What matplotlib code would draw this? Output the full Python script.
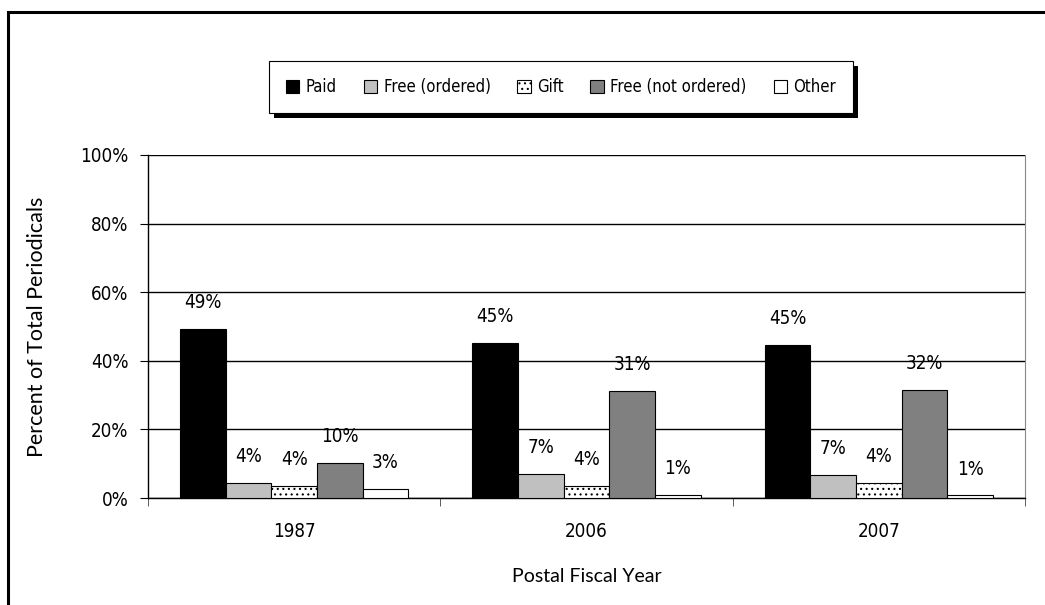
import matplotlib.pyplot as plt
import numpy as np
from matplotlib.patches import Rectangle
from matplotlib import font_manager

years = ["1987", "2006", "2007"]
series = ["Paid", "Free (ordered)", "Gift", "Free (not ordered)", "Other"]
paid = [49.4, 45.2, 44.6]
free_ordered = [4.4, 7.0, 6.8]
gift = [3.6, 3.6, 4.4]
free_not_ordered = [10.2, 31.3, 31.5]
other = [2.7, 1.0, 0.8]

values = [paid, free_ordered, gift, free_not_ordered, other]
colors = ["#000000", "#c0c0c0", "#ffffff", "#808080", "#ffffff"]
hatches = [None, None, "...", None, None]

cond = font_manager.FontProperties(family="DejaVu Sans", stretch="condensed", size=13.5)
cond_leg = font_manager.FontProperties(family="DejaVu Sans", stretch="condensed", size=12)
plt.rcParams["hatch.linewidth"] = 0.8

fig = plt.figure(figsize=(10.45, 6.05), dpi=100)
ax = fig.add_axes([148 / 1045, 1 - 498 / 605, 877 / 1045, 343 / 605])

x = np.arange(len(years))
w = 0.156
for i, (vals, c, h, name) in enumerate(zip(values, colors, hatches, series)):
    pos = x + (i - 2) * w
    ax.bar(pos, vals, width=w, color=c, edgecolor="black", linewidth=0.8,
           hatch=h, label=name, zorder=3)
    for px, v in zip(pos, vals):
        ax.annotate(f"{v:.0f}%", (px, v), xytext=(0, 12), textcoords="offset points",
                    ha="center", va="bottom", fontproperties=cond)

ax.set_xlim(-0.5, 2.5)
ax.set_ylim(0, 100)
ax.set_yticks(np.arange(0, 101, 20))
ax.set_yticklabels([f"{t}%" for t in range(0, 101, 20)], fontproperties=cond)
ax.yaxis.grid(True, color="black", linewidth=1)
ax.set_axisbelow(True)

ax.set_xticks(x)
ax.set_xticklabels(years, fontproperties=cond)
ax.set_xticks([-0.5, 0.5, 1.5, 2.5], minor=True)
ax.tick_params(axis="x", which="major", length=0, pad=17)
ax.tick_params(axis="x", which="minor", length=6, direction="out", color="#444444")
ax.tick_params(axis="y", length=6, direction="out", pad=8)

ax.spines["top"].set_visible(False)
ax.spines["right"].set_color("#888888")
ax.spines["left"].set_linewidth(1)
ax.spines["bottom"].set_linewidth(1)

ax.set_ylabel("Percent of Total Periodicals", family="Lato", fontsize=15.5, labelpad=24)
ax.set_xlabel("Postal Fiscal Year", family="Lato", fontsize=14, labelpad=20)

leg = fig.legend(loc="center", bbox_to_anchor=(561 / 1045, 1 - 87 / 605), ncol=5,
                 prop=cond_leg, frameon=True, fancybox=False, framealpha=1,
                 edgecolor="black", handlelength=0.8, handleheight=0.8,
                 handletextpad=0.4, columnspacing=1.6, borderpad=1.0)
leg.get_frame().set_linewidth(0.8)
leg.set_zorder(5)

# drop shadow behind the legend box
fig.canvas.draw()
bb = leg.get_window_extent().transformed(fig.transFigure.inverted())
fig.add_artist(Rectangle((bb.x0 + 5 / 1045, bb.y0 - 5 / 605), bb.width, bb.height,
                         transform=fig.transFigure, facecolor="black",
                         edgecolor="none", zorder=4))

# outer frame
fig.add_artist(Rectangle((8 / 1045, -0.1), 1.1, 1.1 - 12 / 605,
                         transform=fig.transFigure, facecolor="none",
                         edgecolor="black", linewidth=2.2, zorder=10))

fig.savefig("out.png", dpi=100)
